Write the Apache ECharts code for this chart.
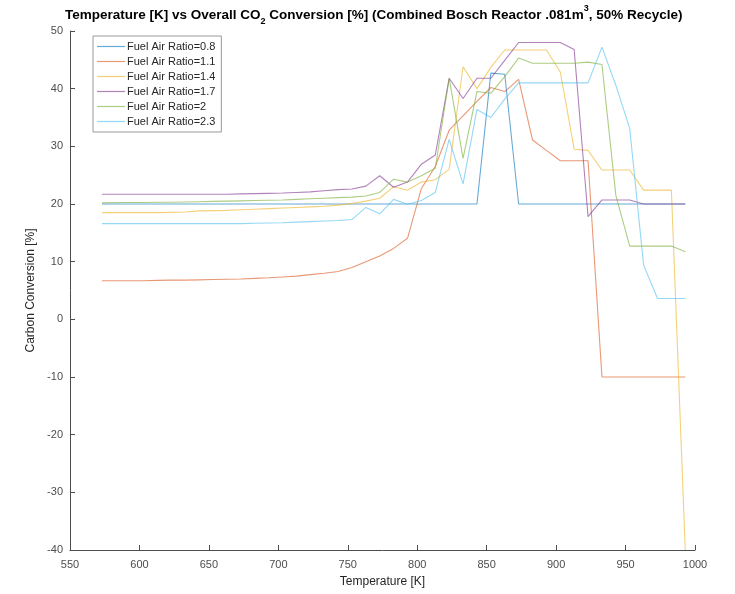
<!DOCTYPE html>
<html>
<head>
<meta charset="utf-8">
<script src="https://cdn.jsdelivr.net/npm/echarts@6/dist/echarts.min.js"></script>
<style>
  html, body { margin: 0; padding: 0; background: #fff; }
  #chart { width: 735px; height: 594px; }
</style>
</head>
<body>
<div id="chart"></div>
<script>
// temperatures [K]
const temps = [573, 583, 593, 603, 613, 623, 633, 643, 653, 663, 673, 683, 693, 703, 713, 723, 733, 743, 753, 763,
  773, 783, 793, 803, 813, 823, 833, 843, 853, 863, 873, 883, 893, 903, 913, 923, 933, 943, 953, 963, 973, 983, 993];

const far08 = [20, 20, 20, 20, 20, 20, 20, 20, 20, 20, 20, 20, 20, 20, 20, 20, 20, 20, 20, 20,
  20, 20, 20, 20, 20, 20, 20, 20, 42.7, 42.5, 20, 20, 20, 20, 20, 20, 20, 20, 20, 20, 20, 20, 20];
const far11 = [6.7, 6.7, 6.7, 6.7, 6.75, 6.8, 6.8, 6.85, 6.9, 6.95, 7.0, 7.1, 7.2, 7.35, 7.5, 7.75, 8.0, 8.3, 9.0, 10.0,
  11.0, 12.3, 14.05, 22.7, 26.5, 32.8, 35.3, 37.8, 40.2, 39.5, 41.6, 31.1, 29.3, 27.5, 27.5, 27.5, -10, -10, -10, -10, -10, -10, -10];
const far14 = [18.5, 18.5, 18.5, 18.5, 18.5, 18.55, 18.6, 18.8, 18.85, 18.9, 19.0, 19.1, 19.2, 19.3, 19.4, 19.5, 19.6, 19.8, 20.1, 20.5,
  21.0, 23.0, 22.4, 23.8, 24.2, 26.0, 43.8, 40.0, 43.7, 46.7, 46.7, 46.7, 46.7, 42.9, 29.5, 29.3, 25.9, 25.9, 25.9, 22.4, 22.4, 22.4, -40];
const far17 = [21.7, 21.7, 21.7, 21.7, 21.7, 21.7, 21.7, 21.7, 21.7, 21.7, 21.75, 21.8, 21.85, 21.9, 22.0, 22.1, 22.3, 22.5, 22.6, 23.1,
  24.9, 22.9, 23.8, 26.9, 28.5, 41.8, 38.3, 41.8, 41.8, 44.9, 48.0, 48.0, 48.0, 48.0, 46.8, 17.8, 20.7, 20.7, 20.7, 20.0, 20.0, 20.0, 20.0];
const far20 = [20.2, 20.25, 20.25, 20.25, 20.3, 20.3, 20.35, 20.4, 20.45, 20.5, 20.55, 20.6, 20.65, 20.7, 20.8, 20.9, 21.0, 21.1, 21.2, 21.4,
  22.0, 24.3, 23.8, 24.9, 26.2, 41.8, 27.9, 39.5, 39.2, 42.1, 45.3, 44.4, 44.4, 44.4, 44.4, 44.6, 44.2, 21.5, 12.7, 12.7, 12.7, 12.7, 11.7];
const far23 = [16.6, 16.6, 16.6, 16.6, 16.6, 16.6, 16.6, 16.6, 16.6, 16.6, 16.6, 16.65, 16.7, 16.75, 16.85, 16.95, 17.05, 17.15, 17.3, 19.4,
  18.3, 20.8, 19.95, 20.6, 22.0, 31.2, 23.5, 36.4, 35.0, 38.2, 41.0, 41.0, 41.0, 41.0, 41.0, 41.0, 47.2, 40.6, 33.1, 9.4, 3.6, 3.6, 3.6];

const seriesNames = ['Fuel Air Ratio=0.8', 'Fuel Air Ratio=1.1', 'Fuel Air Ratio=1.4',
  'Fuel Air Ratio=1.7', 'Fuel Air Ratio=2', 'Fuel Air Ratio=2.3'];
const seriesValues = [far08, far11, far14, far17, far20, far23];
const colors = ['#0072BD', '#D95319', '#EDB120', '#7E2F8E', '#77AC30', '#4DBEEE'];

const chartDom = document.getElementById('chart');
const myChart = echarts.init(chartDom);

const series_data = seriesValues.map((vals, i) => ({
  name: seriesNames[i],
  type: 'line',
  symbol: 'none',
  data: temps.map((t, j) => [t, vals[j]]),
  lineStyle: { width: 1.1, color: colors[i], opacity: 0.6 },
  itemStyle: { color: colors[i], opacity: 0.6 },
  emphasis: { disabled: true }
}));

const axisGrey = '#4d4d4d';
const option = {
  animation: false,
  textStyle: { fontFamily: 'Liberation Sans, Arial, sans-serif' },
  title: {
    text: 'Temperature [K] vs Overall CO{sub|2} Conversion [%] (Combined Bosch Reactor .081m{sup|3}, 50% Recycle)',
    left: 65,
    top: 4,
    padding: 0,
    textStyle: {
      fontSize: 13.5, fontWeight: 'bold', color: '#000', lineHeight: 22,
      rich: {
        sub: { fontSize: 9, fontWeight: 'bold', color: '#000', verticalAlign: 'bottom', lineHeight: 22 },
        sup: { fontSize: 9, fontWeight: 'bold', color: '#000', verticalAlign: 'top', lineHeight: 22 }
      }
    }
  },
  legend: {
    data: seriesNames,
    orient: 'vertical',
    left: 93,
    top: 36,
    padding: [5, 6, 5, 4],
    icon: 'path://M0,5 L28,5 L28,6.2 L0,6.2 Z',
    itemWidth: 28,
    itemHeight: 11,
    itemGap: 4,
    borderColor: '#999',
    borderWidth: 1,
    backgroundColor: '#fff',
    textStyle: { fontSize: 11, color: '#262626', padding: [0, 0, 0, -3] }
  },
  grid: { left: 70, right: 40, top: 31, bottom: 44 },
  xAxis: {
    type: 'value',
    min: 550,
    max: 1000,
    interval: 50,
    name: 'Temperature [K]',
    nameLocation: 'middle',
    nameGap: 26,
    nameTextStyle: { fontSize: 12, color: '#262626' },
    axisLine: { onZero: false, lineStyle: { color: axisGrey } },
    axisTick: { inside: true, length: 5, lineStyle: { color: axisGrey } },
    axisLabel: { fontSize: 11, color: axisGrey, margin: 9, formatter: v => String(v) },
    splitLine: { show: false }
  },
  yAxis: {
    type: 'value',
    min: -40,
    max: 50,
    interval: 10,
    name: 'Carbon Conversion [%]',
    nameLocation: 'middle',
    nameGap: 27,
    nameTextStyle: { fontSize: 12, color: '#262626' },
    axisLine: { show: true, lineStyle: { color: axisGrey } },
    axisTick: { show: true, inside: true, length: 5, lineStyle: { color: axisGrey } },
    axisLabel: { fontSize: 11, color: axisGrey, margin: 7 },
    splitLine: { show: false }
  },
  series: series_data
};
option && myChart.setOption(option);
window.addEventListener('resize', myChart.resize);
</script>
</body>
</html>
